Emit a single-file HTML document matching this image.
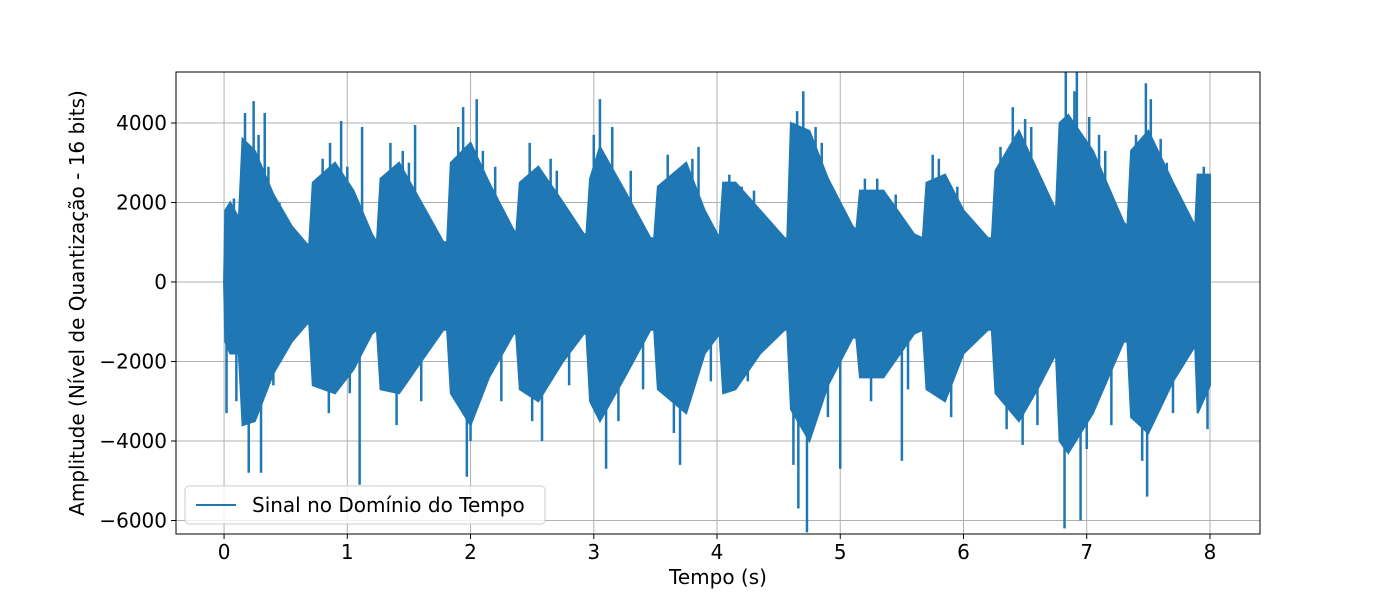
<!DOCTYPE html>
<html><head><meta charset="utf-8"><style>
body{margin:0;background:#fff}
svg{display:block;font-family:"DejaVu Sans","Liberation Sans",sans-serif}
</style></head><body>
<svg id="chart" width="1400" height="600" viewBox="0 0 1400 600">
<g id="grid"></g>
<g id="plot"></g>
<rect x="176" y="72" width="1084" height="462" fill="none" stroke="#000" stroke-width="1"/>
<g id="xticks"></g>
<g id="yticks"></g>
<text x="718" y="584" text-anchor="middle" font-size="20">Tempo (s)</text>
<text transform="translate(84,303) rotate(-90)" text-anchor="middle" font-size="20">Amplitude (Nível de Quantização - 16 bits)</text>
<g>
<rect x="185" y="486" width="360" height="38" rx="4" fill="#fff" fill-opacity="0.8" stroke="#ccc"/>
<line x1="196" y1="505" x2="236" y2="505" stroke="#1f77b4" stroke-width="2"/>
<text x="252" y="512" font-size="20">Sinal no Domínio do Tempo</text>
</g>
</svg>
<script>
const envT=[0,0.01,0.05,0.12,0.15,0.25,0.4,0.55,0.66,0.69,0.72,0.9,1.05,1.2,1.24,1.27,1.42,1.6,1.78,1.81,1.84,2.0,2.15,2.35,2.37,2.4,2.55,2.75,2.92,2.94,2.97,3.05,3.25,3.46,3.49,3.52,3.75,3.9,4.02,4.05,4.15,4.35,4.55,4.57,4.6,4.75,4.9,5.1,5.13,5.16,5.35,5.6,5.67,5.7,5.85,6.0,6.2,6.23,6.26,6.45,6.6,6.75,6.78,6.85,7.05,7.3,7.33,7.36,7.5,7.7,7.88,7.9,8.0];
const envUp=[0,1800,2000,1600,3600,3300,2200,1400,1000,900,2500,3000,2300,1200,1000,2600,3000,2000,1000,1000,3000,3500,2500,1300,1200,2500,2900,2000,1200,1200,2600,3400,2300,1100,1100,2400,3000,1800,1100,2500,2500,1800,1100,1100,4000,3800,2600,1400,1300,2300,2300,1200,1100,2500,2700,1800,1100,1100,2800,3800,2800,1800,4000,4200,3300,1500,1400,3300,3800,2500,1400,2700,2700];
const envLo=[0,-1500,-1800,-1800,-3600,-3500,-2300,-1500,-1100,-1000,-2600,-2800,-2200,-1300,-1200,-2700,-2800,-2000,-1200,-1200,-2800,-3600,-2400,-1300,-1300,-2700,-3000,-2000,-1300,-1300,-3000,-3500,-2400,-1200,-1200,-2700,-3300,-1800,-1300,-2800,-2700,-1800,-1200,-1200,-3200,-4000,-2600,-1400,-1400,-2400,-2400,-1300,-1200,-2700,-3000,-1800,-1200,-1200,-2800,-3500,-2700,-1800,-4000,-4300,-3300,-1500,-1500,-3400,-3800,-2500,-1600,-3300,-2600];
const spikeT=[0.02,0.17,0.2,0.24,0.3,0.33,0.95,1.1,1.12,1.55,1.94,1.97,2.05,2.58,3.05,3.1,3.7,4.66,4.7,4.73,5.0,5.5,6.82,6.83,6.92,6.95,7.02,7.48,7.49,7.52,
0.08,0.28,0.36,0.45,0.8,0.86,1.0,1.35,1.45,1.5,1.9,2.1,2.2,2.48,2.65,2.7,3.0,3.15,3.3,3.6,3.8,3.85,4.1,4.2,4.3,4.65,4.8,4.85,5.2,5.3,5.45,5.75,5.8,5.95,6.3,6.4,6.5,6.55,6.9,7.1,7.15,7.4,7.6,7.65,7.95,
0.1,0.4,0.85,1.02,1.4,1.6,2.0,2.25,2.5,2.8,3.2,3.4,3.65,3.95,4.25,4.62,4.9,5.25,5.55,5.9,6.35,6.48,6.6,7.0,7.2,7.45,7.7,7.98];
const spikeV=[-3300,4250,-4800,4550,-4800,4250,4050,-5100,3900,3950,4400,-4900,4600,-4000,4600,-4700,-4600,-5700,4800,-6300,-4700,-4500,-6200,5283,5283,-6000,4150,5000,-5400,4600,
2100,3700,2900,2000,3100,3500,2900,3500,3300,3000,3900,3300,2900,3500,3100,2800,3700,3900,2800,3200,3100,3400,2700,2400,2300,4300,3900,3500,2600,2600,2200,3200,3100,2400,3400,4400,4100,3900,4800,3700,3300,3700,3600,3000,2900,
-3000,-2600,-3300,-2800,-3600,-3000,-4000,-3000,-3500,-2600,-3500,-2700,-3800,-2500,-2500,-4600,-3400,-3000,-2700,-3400,-3700,-4100,-3600,-4200,-3600,-4500,-3300,-3700];
const xTicks=[0,1,2,3,4,5,6,7,8];
const yTicks=[-6000,-4000,-2000,0,2000,4000];
const yTickLabels=["\u22126000","\u22124000","\u22122000","0","2000","4000"];
const L=176,R=1260,T=72,B=534,xMin=-0.39,xMax=8.406,yMin=-6340,yMax=5283;
const X=v=>L+(v-xMin)/(xMax-xMin)*(R-L);
const Y=v=>B-(v-yMin)/(yMax-yMin)*(B-T);
const NS="http://www.w3.org/2000/svg";
function mk(tag,attrs,parent){const e=document.createElementNS(NS,tag);for(const k in attrs)e.setAttribute(k,attrs[k]);parent.appendChild(e);return e;}
const grid=document.getElementById('grid'),plot=document.getElementById('plot'),xg=document.getElementById('xticks'),yg=document.getElementById('yticks');
xTicks.forEach(t=>{
 const gl=mk('line',{x1:X(t),x2:X(t),y1:T,y2:B,stroke:'#b0b0b0','stroke-width':1},grid);
 
 
 const tk=mk('line',{x1:X(t),x2:X(t),y1:B,y2:B+5,stroke:'#000'},xg);
 
 
 const tx=mk('text',{x:X(t),y:B+25,'text-anchor':'middle','font-size':20},xg);tx.textContent=t;
 
 
});
yTicks.forEach((t,i)=>{
 const gl=mk('line',{x1:L,x2:R,y1:Y(t),y2:Y(t),stroke:'#b0b0b0','stroke-width':1},grid);
 
 
 const tk=mk('line',{x1:L-5,x2:L,y1:Y(t),y2:Y(t),stroke:'#000'},yg);
 
 
 const tx=mk('text',{x:L-9,y:Y(t)+7,'text-anchor':'end','font-size':20},yg);tx.textContent=yTickLabels[i];
 
 
});
let pts=envT.map((t,i)=>X(t)+','+Y(envUp[i]));
for(let i=envT.length-1;i>=0;i--)pts.push(X(envT[i])+','+Y(envLo[i]));
const poly=mk('polygon',{points:pts.join(' '),fill:'#1f77b4',stroke:'#1f77b4','stroke-width':2,'stroke-linejoin':'miter'},plot);


spikeT.forEach((t,i)=>{
 const s=mk('line',{x1:X(t),x2:X(t),y1:Y(0),y2:Y(Math.max(yMin,Math.min(yMax,spikeV[i]))),stroke:'#1f77b4','stroke-width':2.5},plot);
 
 
});
</script>
</body></html>
